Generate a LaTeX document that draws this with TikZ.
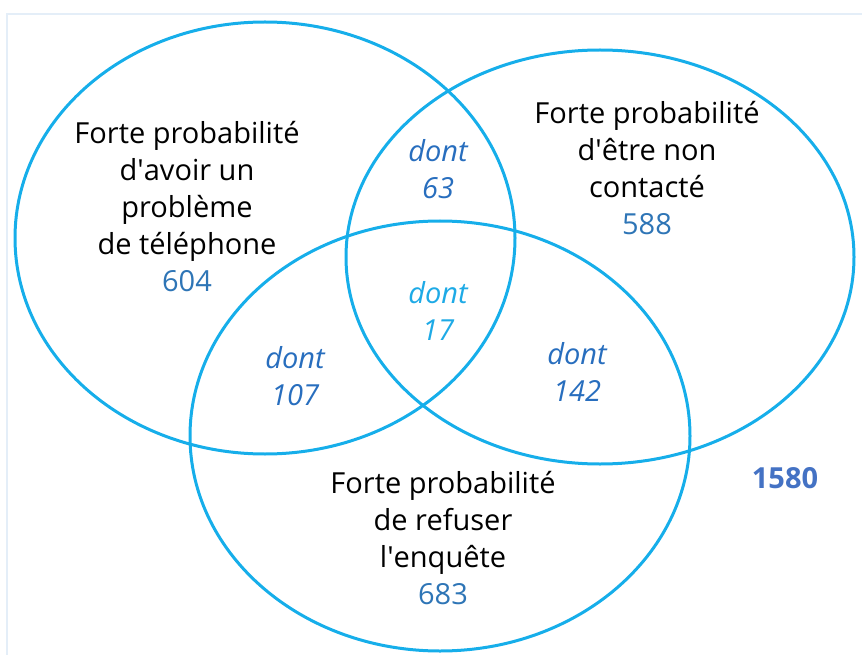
\documentclass[tikz,border=0pt]{standalone}
\usepackage{fontspec}
\setmainfont{Open Sans}

\definecolor{vennline}{RGB}{22,174,234}
\definecolor{numblue}{RGB}{46,117,182}
\definecolor{dontblue}{RGB}{40,110,190}
\definecolor{centreblue}{RGB}{30,170,230}
\definecolor{totalblue}{RGB}{68,114,196}
\definecolor{framec}{RGB}{228,238,248}

\begin{document}
\begin{tikzpicture}[x=1pt,y=-1pt]
\tikzset{ venn/.style={draw=vennline, line width=3pt},
  lab/.style={align=center, inner sep=0pt, font=\fontsize{29}{37}\selectfont},
  dontlab/.style={lab, font=\fontsize{29}{37}\selectfont\itshape, text=dontblue},
}
\useasboundingbox (0,0) rectangle (862,655);

% cadre
\draw [framec, line width=2pt] (7,655) -- (7,14) -- (862,14);

\coordinate (A) at (265,238);
\coordinate (B) at (600,257);
\coordinate (C) at (440,436);

\draw [venn] (A) ellipse [x radius=250, y radius=216];
\draw [venn] (B) ellipse [x radius=254, y radius=207];
\draw [venn] (C) ellipse [x radius=250, y radius=215];

\node [lab] (telephone) at (187,207) {Forte probabilité\\d\textquotesingle avoir un\\problème\\de téléphone\\{\color{numblue}604}};
\node [lab] (contact) at (647,168) {Forte probabilité\\d\textquotesingle être non\\contacté\\{\color{numblue}588}};
\node [lab] (refus) at (443,538) {Forte probabilité\\de refuser\\l\textquotesingle enquête\\{\color{numblue}683}};

\node [dontlab] (AB) at (438,169) {dont\\63};
\node [dontlab, text=centreblue] (ABC) at (438,311) {dont\\17};
\node [dontlab] (AC) at (295,376) {dont\\107};
\node [dontlab] (BC) at (577,372) {dont\\142};

\node [lab, font=\fontsize{29}{37}\selectfont\bfseries, text=totalblue] (total) at (785,478) {1580};

\end{tikzpicture}
\end{document}
